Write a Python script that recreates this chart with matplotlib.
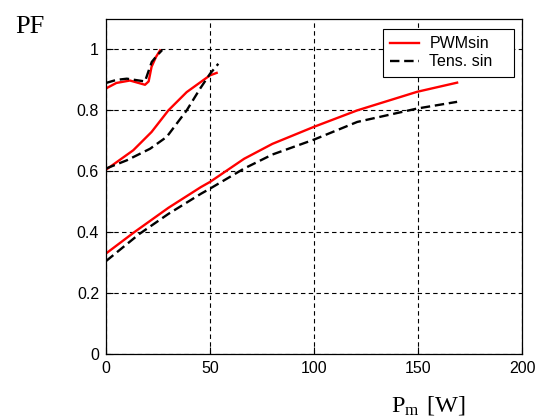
import matplotlib
matplotlib.use("Agg")
import matplotlib.pyplot as plt

# Upper curve pair (small power)
x_a_red = [0, 5, 11.5, 18.75, 20.5, 21.9, 24, 26]
y_a_red = [0.872, 0.89, 0.898, 0.884, 0.895, 0.943, 0.975, 0.997]
x_a_blk = [0, 5, 10, 18.75, 20.3, 22, 24.5, 27]
y_a_blk = [0.89, 0.9, 0.904, 0.895, 0.926, 0.959, 0.98, 0.998]

# Middle curve pair
x_b_red = [0, 13.1, 21.9, 30, 38.8, 50, 53.2]
y_b_red = [0.605, 0.669, 0.729, 0.8, 0.86, 0.915, 0.923]
x_b_blk = [0, 10, 21.2, 29.2, 38.8, 45.2, 50, 54]
y_b_blk = [0.609, 0.636, 0.674, 0.713, 0.8, 0.871, 0.92, 0.953]

# Lower curve pair
x_c_red = [0, 13.6, 30, 45.6, 50, 66.4, 80, 100, 120.8, 149.6, 168.8]
y_c_red = [0.33, 0.40, 0.48, 0.548, 0.565, 0.641, 0.69, 0.746, 0.8, 0.861, 0.891]
x_c_blk = [0, 16, 30, 45.6, 50, 66.4, 80, 100, 120.8, 149.6, 168.8]
y_c_blk = [0.305, 0.394, 0.46, 0.526, 0.543, 0.609, 0.655, 0.704, 0.762, 0.806, 0.828]

x_ticks = [0, 50, 100, 150, 200]
y_ticks = [0, 0.2, 0.4, 0.6, 0.8, 1]
y_tick_labels = ["0", "0.2", "0.4", "0.6", "0.8", "1"]

plt.rcParams['font.family'] = ['Liberation Sans', 'DejaVu Sans']
plt.rcParams['mathtext.fontset'] = 'custom'
plt.rcParams['mathtext.rm'] = 'Liberation Serif'

fig = plt.figure(figsize=(5.42, 4.19), dpi=100)
ax = fig.add_axes([106/542, 1-354/419, (522-106)/542, (354-19)/419])

lw = 1.7
dash = (0, (4, 2))
ax.plot(x_c_red, y_c_red, color='red', lw=lw, label='PWMsin')
ax.plot(x_c_blk, y_c_blk, color='black', lw=lw, ls=dash, label='Tens. sin')
ax.plot(x_b_red, y_b_red, color='red', lw=lw)
ax.plot(x_b_blk, y_b_blk, color='black', lw=lw, ls=dash)
ax.plot(x_a_red, y_a_red, color='red', lw=lw)
ax.plot(x_a_blk, y_a_blk, color='black', lw=lw, ls=dash)

ax.set_xlim(0, 200)
ax.set_ylim(0, 1.1)
ax.set_xticks(x_ticks)
ax.set_yticks(y_ticks)
ax.set_yticklabels(y_tick_labels)
ax.tick_params(direction='in', labelsize=11.5, length=5, width=0.8, pad=5)
ax.grid(True, color='black', ls=(0, (4, 3)), lw=0.8)
for s in ax.spines.values():
    s.set_linewidth(0.9)

leg = ax.legend(loc='upper left', bbox_to_anchor=(0.666, 0.836, 0.315, 0.134),
                mode='expand', fontsize=11.5, frameon=True, fancybox=False,
                edgecolor='black', framealpha=1, borderpad=0.45, handlelength=1.8,
                handletextpad=0.65, labelspacing=0.2, borderaxespad=0)
leg.get_frame().set_linewidth(0.8)

fig.text(15/542, 1-33/419, 'PF', family='Liberation Serif', fontsize=19)
fig.text(391/542, 1-411/419, r'$\mathrm{P_m\ [W]}$', fontsize=17.5)

fig.savefig('out.png', dpi=100)
